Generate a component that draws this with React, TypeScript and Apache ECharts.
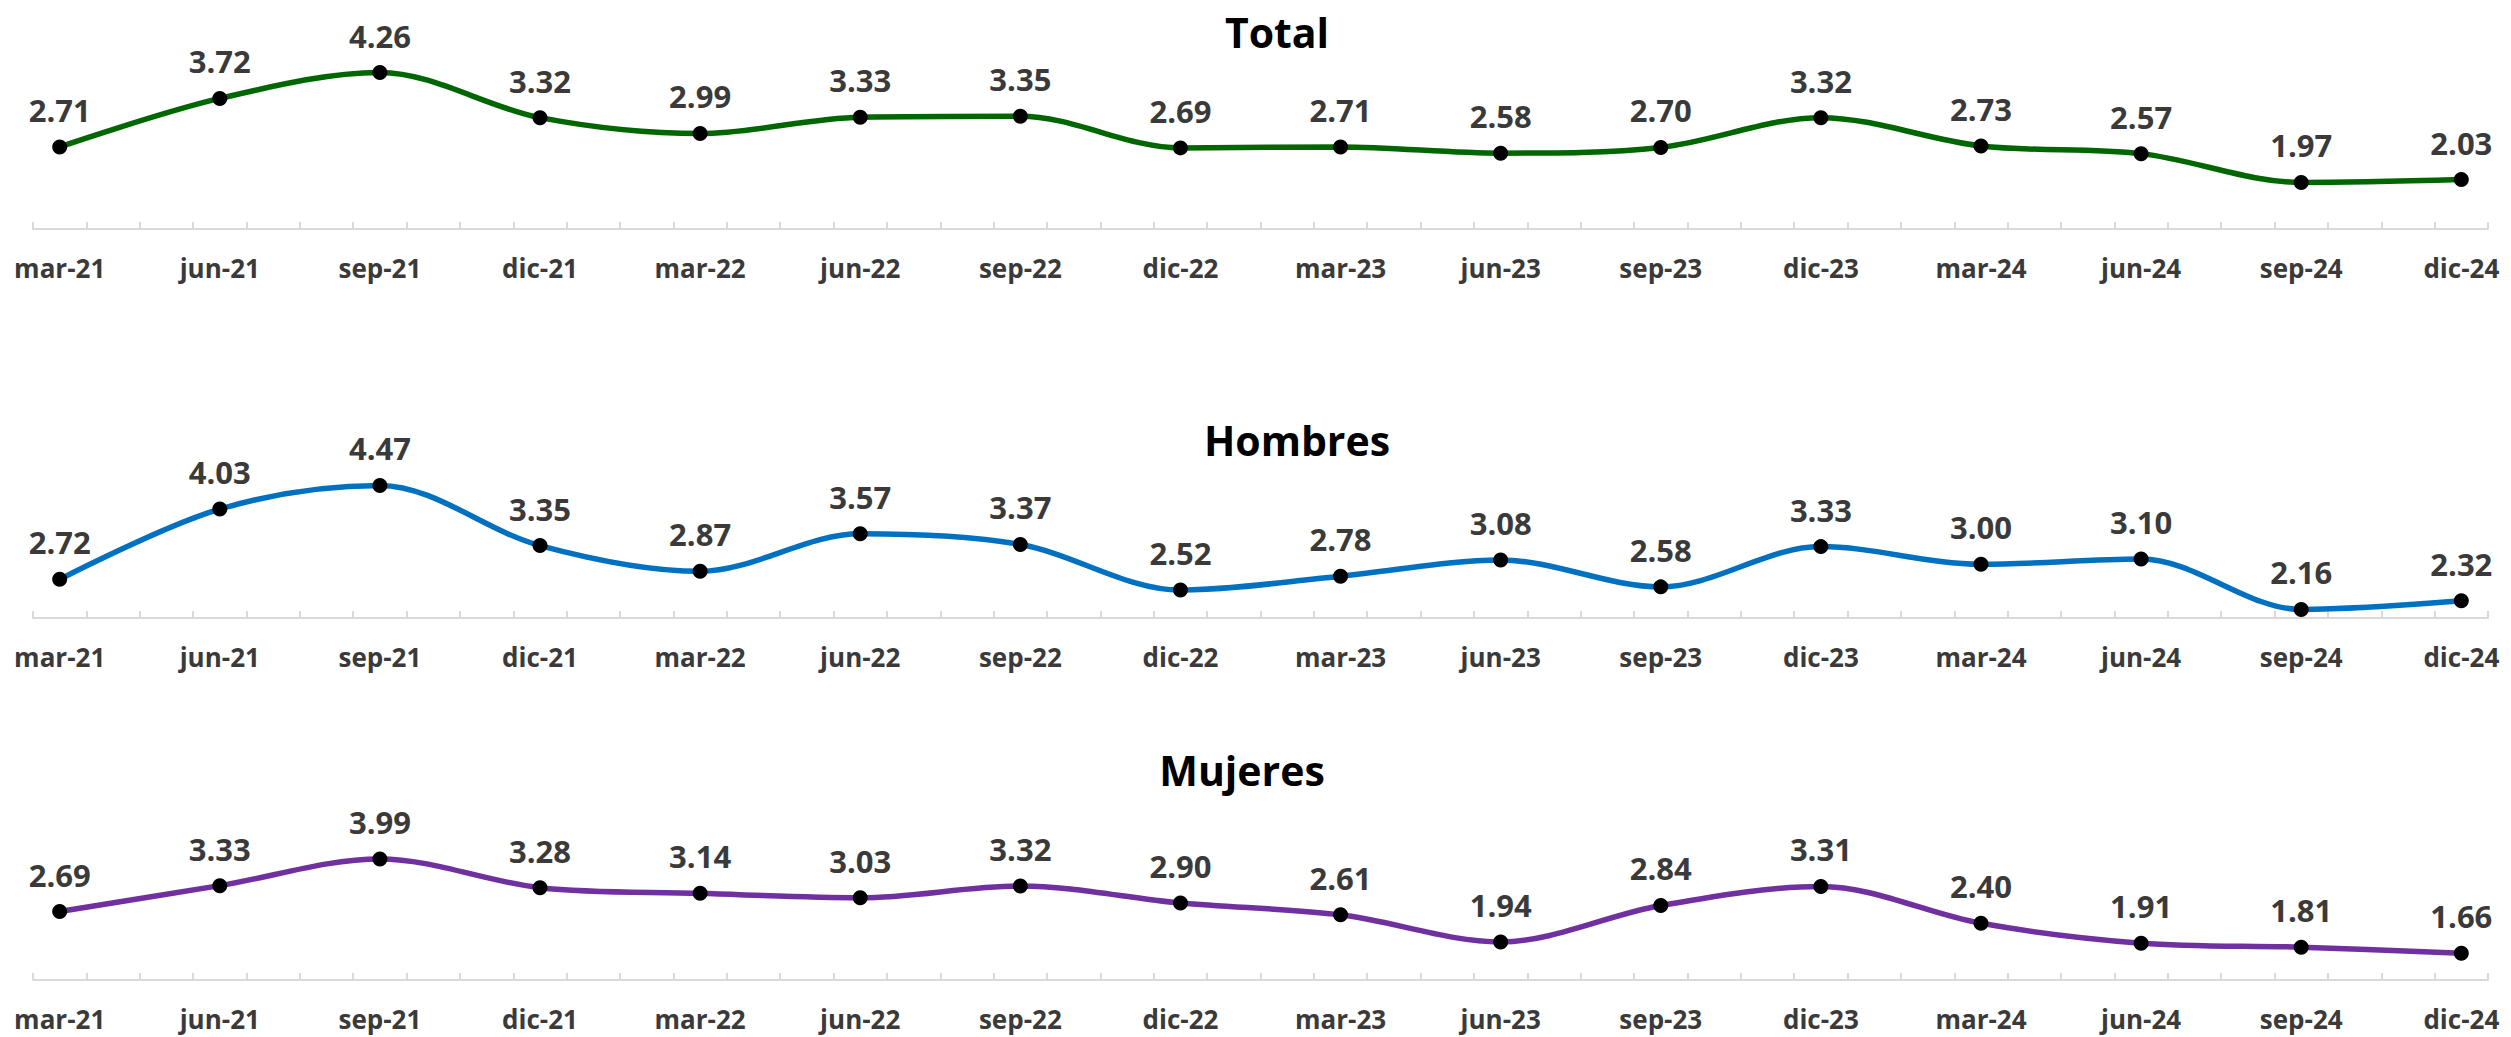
import React, { useEffect, useRef } from "react";
import * as echarts from "echarts";

const quarterLabels = [
  "mar-21", "jun-21", "sep-21", "dic-21",
  "mar-22", "jun-22", "sep-22", "dic-22",
  "mar-23", "jun-23", "sep-23", "dic-23",
  "mar-24", "jun-24", "sep-24", "dic-24",
];

const totalValues = [2.71, 3.72, 4.26, 3.32, 2.99, 3.33, 3.35, 2.69, 2.71, 2.58, 2.70, 3.32, 2.73, 2.57, 1.97, 2.03];
const hombresValues = [2.72, 4.03, 4.47, 3.35, 2.87, 3.57, 3.37, 2.52, 2.78, 3.08, 2.58, 3.33, 3.00, 3.10, 2.16, 2.32];
const mujeresValues = [2.69, 3.33, 3.99, 3.28, 3.14, 3.03, 3.32, 2.90, 2.61, 1.94, 2.84, 3.31, 2.40, 1.91, 1.81, 1.66];

const panelTitles = ["Total", "Hombres", "Mujeres"];
const panelColors = ["#006600", "#0070C0", "#7030A0"];

// monthly categories: quarter label, then two in-between months
const monthlyCategories: string[] = [];
quarterLabels.forEach((q, i) => {
  monthlyCategories.push(q);
  if (i < quarterLabels.length - 1) {
    monthlyCategories.push(q + "+1");
    monthlyCategories.push(q + "+2");
  }
});

const toMonthly = (vals: number[]) => {
  const out: (number | null)[] = [];
  vals.forEach((v, i) => {
    out.push(v);
    if (i < vals.length - 1) {
      out.push(null);
      out.push(null);
    }
  });
  return out;
};

const FONT = "'Open Sans', 'Liberation Sans', sans-serif";

export default function App() {
  const ref = useRef<HTMLDivElement>(null);

  useEffect(() => {
    if (!ref.current) return;
    const chart = echarts.init(ref.current, undefined, { renderer: "svg" });

    const grids = [
      { left: 33, right: 23, top: 37, height: 192 },
      { left: 33, right: 23, top: 457, height: 161 },
      { left: 33, right: 23, top: 818, height: 162 },
    ];
    const yRanges = [
      { min: 1, max: 5 },
      { min: 2, max: 5 },
      { min: 1, max: 5 },
    ];
    const seriesValues = [totalValues, hombresValues, mujeresValues];
    const titlePos = [
      { x: 1277, y: 32 },
      { x: 1297, y: 440 },
      { x: 1242, y: 770 },
    ];

    const option: any = {
      animation: false,
      backgroundColor: "#ffffff",
      grid: grids,
      xAxis: grids.map((_, i) => ({
        type: "category",
        gridIndex: i,
        data: monthlyCategories,
        boundaryGap: true,
        axisLine: { show: true, lineStyle: { color: "#d9d9d9", width: 2 } },
        axisTick: {
          show: true,
          interval: 0,
          inside: true,
          length: 7,
          lineStyle: { color: "#d9d9d9", width: 2 },
        },
        axisLabel: {
          show: true,
          interval: 2,
          margin: 24,
          color: "#3a3a3a",
          fontFamily: FONT,
          fontWeight: "bold",
          fontSize: 26,
          lineHeight: 30,
        },
        splitLine: { show: false },
      })),
      yAxis: grids.map((_, i) => ({
        type: "value",
        gridIndex: i,
        min: yRanges[i].min,
        max: yRanges[i].max,
        show: false,
        splitLine: { show: false },
      })),
      graphic: panelTitles.map((t, i) => ({
        type: "text",
        x: titlePos[i].x,
        y: titlePos[i].y,
        style: {
          text: t,
          fill: "#000000",
          font: `bold 41px ${FONT}`,
          textAlign: "center",
          textVerticalAlign: "middle",
        },
      })),
      series: seriesValues.map((vals, i) => ({
        type: "line",
        name: panelTitles[i],
        xAxisIndex: i,
        yAxisIndex: i,
        data: toMonthly(vals),
        connectNulls: true,
        smooth: 0.33,
        lineStyle: { color: panelColors[i], width: 5.5 },
        itemStyle: { color: "#000000" },
        symbol: "circle",
        symbolSize: 15,
        showSymbol: true,
        label: {
          show: true,
          position: "top",
          distance: 14,
          color: "#3a3a3a",
          fontFamily: FONT,
          fontWeight: "bold",
          fontSize: 31,
          formatter: (p: any) => (p.value == null ? "" : Number(p.value).toFixed(2)),
        },
      })),
    };

    chart.setOption(option);
    return () => chart.dispose();
  }, []);

  return (
    <div
      ref={ref}
      style={{ position: "absolute", left: 0, top: 0, width: 2511, height: 1037 }}
    />
  );
}
